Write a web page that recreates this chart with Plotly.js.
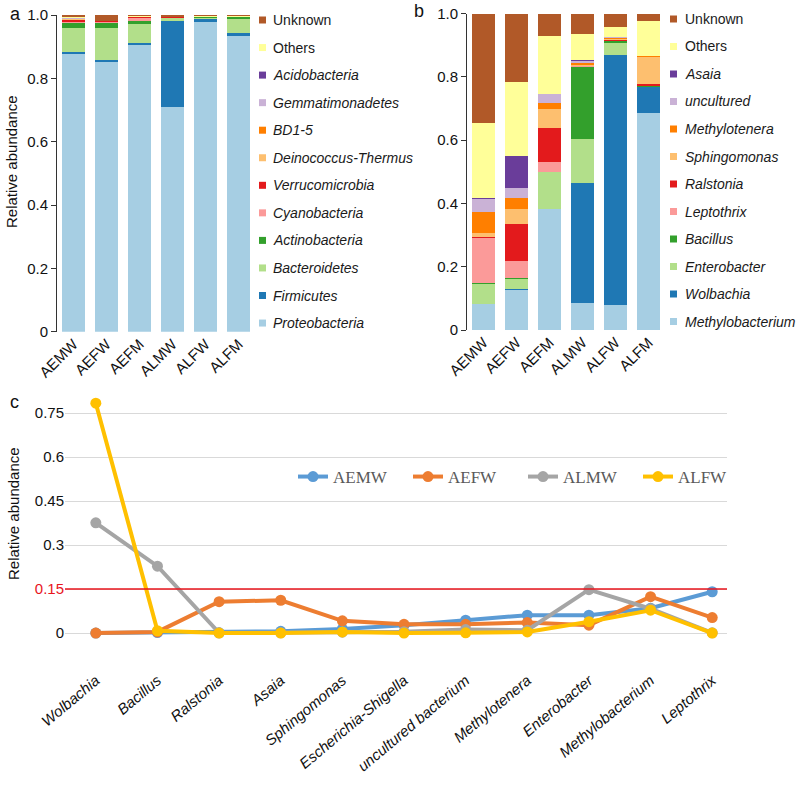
<!DOCTYPE html>
<html>
<head>
<meta charset="utf-8">
<script src="https://cdn.plot.ly/plotly-3.0.1.min.js"></script>
<style>html,body{margin:0;padding:0;background:#fff;}#chart{width:797px;height:785px;}</style>
</head>
<body>
<div id="chart"></div>
<script>
// ---------- DATA ----------
const samples = ['AEMW','AEFW','AEFM','ALMW','ALFW','ALFM'];

// Panel a (phylum level), bottom to top
const phylaNames = ['Proteobacteria','Firmicutes','Bacteroidetes','Actinobacteria','Cyanobacteria','Verrucomicrobia','Deinococcus-Thermus','BD1-5','Gemmatimonadetes','Acidobacteria','Others','Unknown'];
const proteobacteria  = [0.876, 0.852, 0.905, 0.709, 0.979, 0.934];
const firmicutes      = [0.008, 0.006, 0.006, 0.272, 0.008, 0.009];
const bacteroidetes   = [0.075, 0.100, 0.060, 0.008, 0.005, 0.044];
const actinobacteria  = [0.016, 0.016, 0.009, 0.003, 0.003, 0.008];
const cyanobacteria   = [0.003, 0.003, 0.010, 0.000, 0.000, 0.000];
const verrucomicrobia = [0.006, 0.004, 0.004, 0.002, 0.000, 0.000];
const deinococcus     = [0.002, 0.000, 0.000, 0.000, 0.000, 0.000];
const bd15            = [0.002, 0.000, 0.000, 0.000, 0.000, 0.000];
const gemmatimonadetes= [0.001, 0.000, 0.000, 0.000, 0.000, 0.000];
const acidobacteria   = [0.001, 0.000, 0.000, 0.000, 0.000, 0.000];
const othersA         = [0.003, 0.001, 0.003, 0.001, 0.001, 0.001];
const unknownA        = [0.007, 0.018, 0.003, 0.005, 0.004, 0.004];

// Panel b (genus level), bottom to top
const genusNames = ['Methylobacterium','Wolbachia','Enterobacter','Bacillus','Leptothrix','Ralstonia','Sphingomonas','Methylotenera','uncultured','Asaia','Others','Unknown'];
const methylobacterium = [0.082, 0.127, 0.383, 0.084, 0.079, 0.685];
const wolbachia        = [0.000, 0.002, 0.000, 0.382, 0.790, 0.082];
const enterobacter     = [0.064, 0.031, 0.116, 0.139, 0.037, 0.002];
const bacillus         = [0.002, 0.003, 0.002, 0.227, 0.008, 0.003];
const leptothrix       = [0.143, 0.056, 0.029, 0.002, 0.001, 0.001];
const ralstonia        = [0.002, 0.116, 0.108, 0.001, 0.001, 0.004];
const sphingomonas     = [0.015, 0.046, 0.062, 0.003, 0.004, 0.086];
const methylotenera    = [0.065, 0.037, 0.017, 0.006, 0.004, 0.002];
const uncultured       = [0.041, 0.030, 0.028, 0.008, 0.002, 0.001];
const asaia            = [0.004, 0.103, 0.001, 0.001, 0.000, 0.000];
const othersB          = [0.235, 0.234, 0.184, 0.082, 0.032, 0.112];
const unknownB         = [0.347, 0.215, 0.070, 0.065, 0.042, 0.022];

// Panel c
const generaC = ['Wolbachia','Bacillus','Ralstonia','Asaia','Sphingomonas','Escherichia-Shigella','uncultured bacterium','Methylotenera','Enterobacter','Methylobacterium','Leptothrix'];
const seriesC = ['AEMW','AEFW','ALMW','ALFW'];
const aemwC = [0.000, 0.002, 0.001, 0.006, 0.014, 0.027, 0.044, 0.061, 0.061, 0.085, 0.141];
const aefwC = [0.000, 0.004, 0.107, 0.112, 0.042, 0.030, 0.030, 0.036, 0.027, 0.124, 0.053];
const almwC = [0.376, 0.228, 0.001, 0.001, 0.003, 0.005, 0.012, 0.010, 0.148, 0.083, 0.001];
const alfwC = [0.784, 0.008, 0.000, 0.000, 0.004, 0.000, 0.001, 0.004, 0.039, 0.078, 0.000];
const yTicksC = [0, 0.15, 0.3, 0.45, 0.6, 0.75];
const yTickTextC = ['0','<span style="color:#e8141c">0.15</span>','0.3','0.45','0.6','0.75'];
const threshold = 0.15;

// ---------- STYLE ----------
const paired = ['#a6cee3','#1f78b4','#b2df8a','#33a02c','#fb9a99','#e31a1c','#fdbf6f','#ff7f00','#cab2d6','#6a3d9a','#ffff99','#b15928'];
const lineColors = ['#5b9bd5','#ed7d31','#a5a5a5','#ffc000'];
const W = 797, H = 785;
const px = x => x / W;
const py = y => 1 - y / H;
const FONT = 'Liberation Sans, Arial, sans-serif';

const phylaData = [proteobacteria, firmicutes, bacteroidetes, actinobacteria, cyanobacteria, verrucomicrobia, deinococcus, bd15, gemmatimonadetes, acidobacteria, othersA, unknownA];
const genusData = [methylobacterium, wolbachia, enterobacter, bacillus, leptothrix, ralstonia, sphingomonas, methylotenera, uncultured, asaia, othersB, unknownB];
const seriesDataC = [aemwC, aefwC, almwC, alfwC];

const traces = [];
phylaData.forEach((vals, i) => {
  traces.push({type:'bar', x: samples, y: vals, name: phylaNames[i], xaxis:'x', yaxis:'y',
    marker:{color: paired[i], line:{width:0}}, showlegend:false, hoverinfo:'name+y'});
});
genusData.forEach((vals, i) => {
  traces.push({type:'bar', x: samples, y: vals, name: genusNames[i], xaxis:'x2', yaxis:'y2',
    marker:{color: paired[i], line:{width:0}}, showlegend:false, hoverinfo:'name+y'});
});
seriesDataC.forEach((vals, i) => {
  traces.push({type:'scatter', mode:'lines+markers', x: generaC.map((g, k) => k), y: vals, name: seriesC[i],
    xaxis:'x3', yaxis:'y3', line:{color: lineColors[i], width:4}, marker:{color: lineColors[i], size:11},
    showlegend:true, legend:'legend'});
});

const shapes = [];
const annotations = [];

// custom legends for a and b
function addLegend(names, x0, yTop, step, textX) {
  for (let k = 0; k < names.length; k++) {
    const idx = names.length - 1 - k; // top item = last (Unknown)
    const yc = yTop + k * step;
    shapes.push({type:'rect', xref:'paper', yref:'paper', x0: px(x0), x1: px(x0 + 7), y0: py(yc - 3.5), y1: py(yc + 3.5),
      fillcolor: paired[idx], line:{width:0}});
    const nm = names[idx];
    const txt = (nm === 'Others' || nm === 'Unknown') ? nm : '<i>' + nm + '</i>';
    annotations.push({xref:'paper', yref:'paper', x: px(textX), y: py(yc), xanchor:'left', yanchor:'middle',
      text: txt, showarrow:false, font:{family: FONT, size:14, color:'#1a1a1a'}});
  }
}
addLegend(phylaNames, 259, 20, 27.55, 271);
addLegend(genusNames, 670, 19, 27.5, 683);

// panel letters
[['a', 8, 14], ['b', 412, 11], ['c', 8, 402]].forEach(([t, x, y]) => {
  annotations.push({xref:'paper', yref:'paper', x: px(x), y: py(y), xanchor:'left', yanchor:'middle', text: t,
    showarrow:false, font:{family: FONT, size:18, color:'#111'}});
});

// y-axis titles (positioned as in the reference)
[[12, 162], [13, 514]].forEach(([x, y]) => {
  annotations.push({xref:'paper', yref:'paper', x: px(x), y: py(y), xanchor:'center', yanchor:'middle',
    text:'Relative abundance', textangle:-90, showarrow:false, font:{family: FONT, size:15, color:'#111'}});
});

// threshold line in c
shapes.push({type:'line', xref:'x3 domain', yref:'y3', x0:0, x1:1, y0: threshold, y1: threshold,
  line:{color:'#e8141c', width:1.5}});

const barAxisY = {range:[0,1], tickvals:[0,0.2,0.4,0.6,0.8,1.0], ticktext:['0','0.2','0.4','0.6','0.8','1.0'],
  showgrid:false, zeroline:false, showline:true, linecolor:'#333', linewidth:1, ticks:'outside', ticklen:5,
  tickcolor:'#333', tickfont:{family: FONT, size:15, color:'#111'}, fixedrange:true};
const barAxisX = {tickangle:-45, showline:false, ticks:'', showgrid:false, zeroline:false,
  tickfont:{family: FONT, size:15, color:'#111'}, fixedrange:true};

const layout = {
  width: W, height: H, margin:{l:0, r:0, t:0, b:0}, paper_bgcolor:'#fff', plot_bgcolor:'#fff',
  barmode:'stack', bargap:0.3, font:{family: FONT},
  xaxis: Object.assign({}, barAxisX, {domain:[px(57), px(255)], anchor:'y'}),
  yaxis: Object.assign({}, barAxisY, {domain:[py(331.7), py(15)], anchor:'x'}),
  xaxis2: Object.assign({}, barAxisX, {domain:[px(467), px(665)], anchor:'y2'}),
  yaxis2: Object.assign({}, barAxisY, {domain:[py(330), py(13.7)], anchor:'x2'}),
  xaxis3: {domain:[px(65), px(727)], anchor:'y3', range:[-0.5, 10.24], tickvals: generaC.map((g, k) => k), ticktext: generaC,
    tickangle:-40, showline:false, ticks:'', showgrid:false, zeroline:false,
    tickfont:{family: FONT, size:15, color:'#111', style:'italic'}, fixedrange:true},
  yaxis3: {domain:[py(668), py(392)], anchor:'x3', range:[-0.119, 0.822], tickvals: yTicksC, ticktext: yTickTextC,
    showgrid:true, gridcolor:'#d9d9d9', gridwidth:1, zeroline:false, showline:false, ticks:'',
    tickfont:{family: FONT, size:15, color:'#111'}, fixedrange:true},
  legend: {orientation:'h', traceorder:'normal', x: px(293), y: py(477), xanchor:'left', yanchor:'middle', bgcolor:'rgba(0,0,0,0)',
    font:{family:'Liberation Serif, Times New Roman, serif', size:17, color:'#595959'}, itemwidth:30,
    entrywidth:70, entrywidthmode:'pixels'},
  shapes: shapes, annotations: annotations
};

Plotly.newPlot('chart', traces, layout, {staticPlot:true, displayModeBar:false});
</script>
</body>
</html>
